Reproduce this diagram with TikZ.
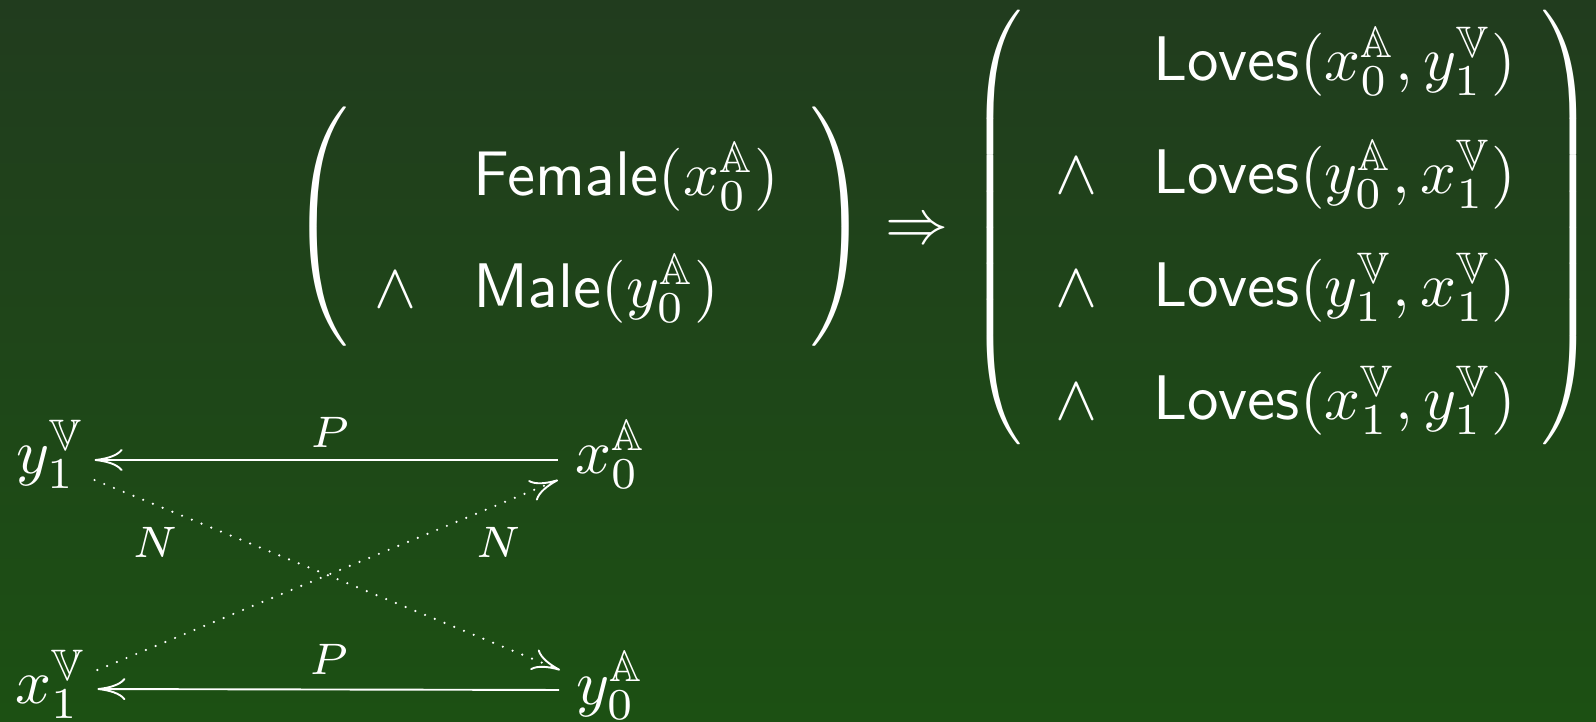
\RequirePackage{fix-cm}
\documentclass[tikz,border=0pt]{standalone}
\usepackage{amsmath,amssymb}
\usepackage{graphicx}
\usetikzlibrary{arrows.meta,calc}
\definecolor{bgtop}{HTML}{213C1E}
\definecolor{bgbot}{HTML}{1C5013}
\newcommand{\bbA}{\mathbb{A}}
\newcommand{\bbV}{\mathbb{V}}
\newcommand{\Mth}[1]{\scalebox{6.3}{\fontsize{10}{12}\selectfont$#1$}}
\newcommand{\Delim}[2]{\scalebox{#1}{\fontsize{10}{12}\selectfont$#2$}}
\tikzset{
  txt/.style={text=white, inner sep=0pt},
  term/.style={txt, anchor=base west},
  lbl/.style={txt},
  conn/.style={draw=white, line width=1.9pt, -{Computer Modern Rightarrow[length=28pt,width=22pt,line width=1.9pt]}},
  neg/.style={conn, line width=2.4pt, dash pattern=on 0pt off 10.5pt, line cap=round},
}
\begin{document}
\begin{tikzpicture}[x=1pt,y=-1pt]
\useasboundingbox (0,0) rectangle (1596,721);
\shade[top color=bgtop, bottom color=bgbot] (0,0) rectangle (1596,721);

% left group
\node[txt] (lp1) at (323.5,226.5) {\Delim{6.64}{\left(\vrule height 19.5pt depth 14.5pt width 0pt\right.}};
\node[term] (and1) at (374,307) {\Mth{\wedge}};
\node[term] (fem) at (473,195) {\Mth{\mathsf{Female}(x_0^{\bbA})}};
\node[term] (male) at (473,307) {\Mth{\mathsf{Male}(y_0^{\bbA})}};
\node[txt] (rp1) at (836,226.5) {\Delim{6.64}{\left.\vrule height 19.5pt depth 14.5pt width 0pt\right)}};

\node[term] (imp) at (885,243) {\Mth{\Rightarrow}};

% right group
\node[txt] (lp2) at (999.5,227.5) {\Delim{6.04}{\left(\vrule height 39pt depth 34pt width 0pt\right.}};
\node[term] (and2) at (1055,193) {\Mth{\wedge}};
\node[term] (and3) at (1055,306) {\Mth{\wedge}};
\node[term] (and4) at (1055,419) {\Mth{\wedge}};
\node[term] (lov1) at (1153,80) {\Mth{\mathsf{Loves}(x_0^{\bbA}, y_1^{\bbV})}};
\node[term] (lov2) at (1153,193) {\Mth{\mathsf{Loves}(y_0^{\bbA}, x_1^{\bbV})}};
\node[term] (lov3) at (1153,306) {\Mth{\mathsf{Loves}(y_1^{\bbV}, x_1^{\bbV})}};
\node[term] (lov4) at (1153,419) {\Mth{\mathsf{Loves}(x_1^{\bbV}, y_1^{\bbV})}};
\node[txt] (rp2) at (1564.5,227.5) {\Delim{6.04}{\left.\vrule height 39pt depth 34pt width 0pt\right)}};

% diagram
\node[term] (y1) at (16,473) {\Mth{y_1^{\bbV}}};
\node[term] (x0) at (575,473) {\Mth{x_0^{\bbA}}};
\node[term] (x1) at (15,703) {\Mth{x_1^{\bbV}}};
\node[term] (y0) at (576,704) {\Mth{y_0^{\bbA}}};

\draw[conn, shorten <=17pt, shorten >=10pt] ([yshift=13pt]x0.base west) -- node[lbl, pos=0.5, yshift=28pt] {\Mth{\scriptstyle P}} ([yshift=13pt]y1.base east);
\draw[conn, shorten <=17pt, shorten >=11pt] ([yshift=14pt]y0.base west) -- node[lbl, pos=0.505, yshift=30pt] {\Mth{\scriptstyle P}} ([yshift=14pt]x1.base east);
\draw[neg] ($(y1.base east)+(10,7)$) -- node[lbl, pos=0.13, yshift=-38pt] {\Mth{\scriptstyle N}} ($(y0.base west)+(-16,-34)$);
\draw[neg] ($(x1.base east)+(11,-33)$) -- node[lbl, pos=0.87, yshift=-38pt] {\Mth{\scriptstyle N}} ($(x0.base west)+(-17,7)$);
\end{tikzpicture}
\end{document}
